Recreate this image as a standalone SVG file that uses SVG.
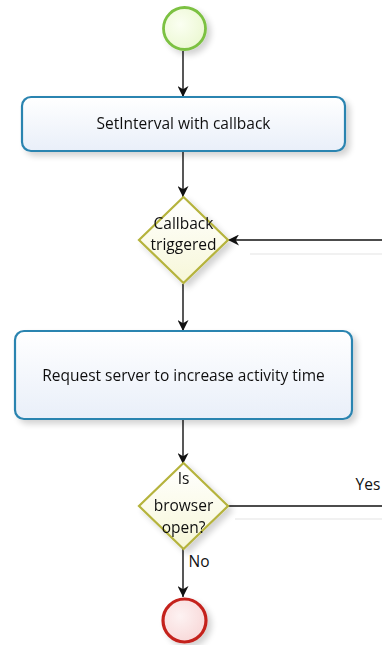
<svg xmlns="http://www.w3.org/2000/svg" width="382" height="645" viewBox="0 0 382 645">
<style>
.lbl{font-family:"Open Sans","DejaVu Sans",sans-serif;font-size:15.5px;fill:#111;text-anchor:middle}
.task{stroke:#2b84b0;stroke-width:2.2;fill:url(#gTask)}
.gw{stroke:#b5b33c;stroke-width:2.2;fill:url(#gGw)}
.edge{stroke:#111;stroke-width:1.4;fill:none}
.ghost{stroke:#ececec;stroke-width:1.4;fill:none}
</style>
<defs>
<linearGradient id="gTask" x1="0" y1="0" x2="0" y2="1"><stop offset="0" stop-color="#ffffff"/><stop offset="1" stop-color="#e9eff9"/></linearGradient>
<linearGradient id="gGw" x1="0" y1="0" x2="0" y2="1"><stop offset="0" stop-color="#ffffff"/><stop offset="1" stop-color="#f7f7d8"/></linearGradient>
<radialGradient id="gStart" cx="0.4" cy="0.4" r="0.7"><stop offset="0" stop-color="#fbfff2"/><stop offset="1" stop-color="#eaf7cf"/></radialGradient>
<radialGradient id="gEnd" cx="0.4" cy="0.4" r="0.7"><stop offset="0" stop-color="#fdf2f2"/><stop offset="1" stop-color="#f8d6d6"/></radialGradient>
<filter id="sh" x="-20%" y="-20%" width="150%" height="150%"><feGaussianBlur in="SourceAlpha" stdDeviation="3"/><feOffset dx="4" dy="4"/><feComponentTransfer><feFuncA type="linear" slope="0.18"/></feComponentTransfer><feMerge><feMergeNode/><feMergeNode in="SourceGraphic"/></feMerge></filter>
<marker id="arr" viewBox="0 0 10 10" refX="10" refY="5" markerWidth="11" markerHeight="11" markerUnits="userSpaceOnUse" orient="auto"><path d="M0,0 L10,5 L0,10 L3,5 Z" fill="#111"/></marker>
</defs>
<g id="connectors">
<line class="ghost" x1="250" y1="254" x2="382" y2="254"/>
<line class="ghost" x1="235" y1="519" x2="382" y2="519"/>
<line class="edge" x1="183" y1="51" x2="183" y2="97" marker-end="url(#arr)"/>
<line class="edge" x1="183" y1="152" x2="183" y2="197" marker-end="url(#arr)"/>
<line class="edge" x1="382" y1="240" x2="228" y2="240" marker-end="url(#arr)"/>
<line class="edge" x1="183" y1="284" x2="183" y2="331" marker-end="url(#arr)"/>
<line class="edge" x1="183" y1="419" x2="183" y2="464" marker-end="url(#arr)"/>
<line class="edge" x1="228" y1="506" x2="382" y2="506"/>
<text class="lbl" x="368" y="490">Yes</text>
<line class="edge" x1="183" y1="549" x2="183" y2="597" marker-end="url(#arr)"/>
<text class="lbl" x="199" y="567">No</text>
</g>
<g id="start" filter="url(#sh)"><circle cx="184.5" cy="28.5" r="21" fill="url(#gStart)" stroke="#7cc142" stroke-width="2.8"/></g>
<g id="setInterval" filter="url(#sh)"><rect class="task" x="22" y="97" width="323" height="54" rx="9"/><text class="lbl" x="183.5" y="129">SetInterval with callback</text></g>
<g id="callbackTriggered" filter="url(#sh)"><polygon class="gw" points="183.5,197 228,240 183.5,283 139,240"/><text class="lbl" x="183.5" y="229">Callback</text><text class="lbl" x="183.5" y="250">triggered</text></g>
<g id="requestServer" filter="url(#sh)"><rect class="task" x="15" y="331" width="337" height="88" rx="9"/><text class="lbl" x="183.5" y="381">Request server to increase activity time</text></g>
<g id="browserOpen" filter="url(#sh)"><polygon class="gw" points="183.5,463 228,506 183.5,549 139,506"/><text class="lbl" x="183.5" y="484">Is</text><text class="lbl" x="183.5" y="511">browser</text><text class="lbl" x="183.5" y="533">open?</text></g>
<g id="end" filter="url(#sh)"><circle cx="184.5" cy="620.5" r="21.5" fill="url(#gEnd)" stroke="#c4211c" stroke-width="3.2"/></g>
</svg>
